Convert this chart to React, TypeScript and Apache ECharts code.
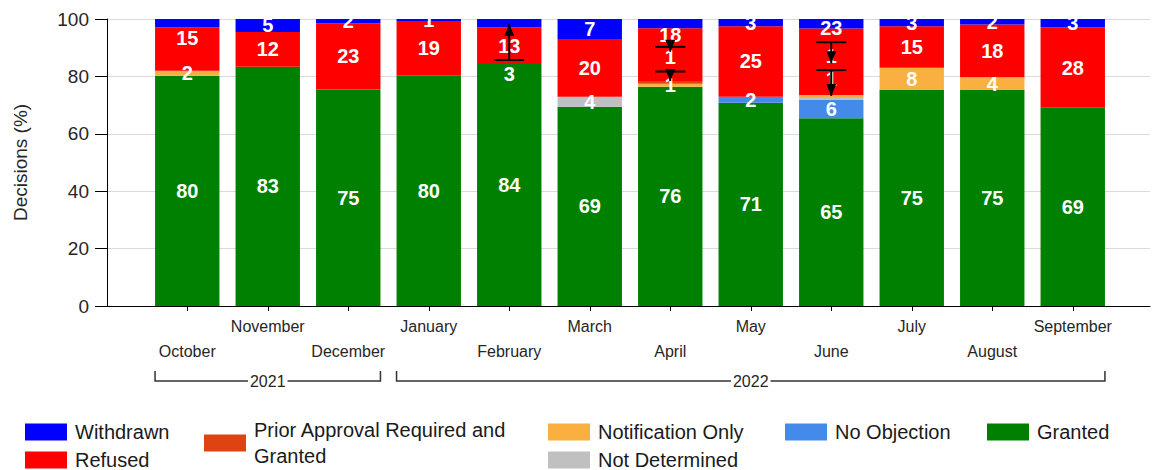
import React, { useEffect, useRef } from "react";
import * as echarts from "echarts";

const months = ["October", "November", "December", "January", "February", "March", "April", "May", "June", "July", "August", "September"];

const granted = [80.2, 83.4, 75.4, 80.2, 84.3, 69.4, 76.4, 70.8, 65.4, 75.3, 75.3, 69.1];
const noObjection = [0, 0, 0, 0, 0, 0, 0, 2.1, 6.4, 0, 0, 0];
const notDetermined = [0, 0, 0, 0, 0, 3.5, 0, 0, 0.7, 0, 0, 0];
const notificationOnly = [1.8, 0, 0, 0, 0, 0, 1, 0, 1, 7.7, 4.4, 0];
const priorApproval = [0, 0, 0, 0, 0, 0, 1, 0, 0, 0, 0, 0];
const refused = [15.1, 12.1, 23.1, 19.1, 12.8, 20.1, 18.4, 24.6, 23.2, 14.5, 18.4, 28];
const withdrawn = [2.9, 4.5, 1.5, 0.7, 2.9, 7, 3.2, 2.5, 3.3, 2.5, 1.9, 2.9];

// labels not drawn on the segment itself
const hiddenWithdrawn = [0, 4, 6, 8];
const hiddenRefused = [0, 6, 8];
const hiddenPrior = [6];
const hiddenNotDetermined = [8];
const hiddenNotification = [8];

// displaced labels (month index, value position, text)
const calloutMonth = [0, 4, 6, 6, 8, 8, 8];
const calloutValue = [93.4, 81, 94.4, 86.9, 96.8, 87, 79];
const calloutText = ["15", "3", "18", "1", "23", "1", "1"];

// leader arrows (month index, from value, to value)
const arrowMonth = [4, 6, 6, 8, 8];
const arrowFrom = [85.7, 90.3, 81.7, 91.9, 82.2];
const arrowTo = [98.3, 88.6, 78.4, 84.6, 73.2];

const yearLabels = ["2021", "2022"];
const yearStart = [0, 3];
const yearEnd = [2, 11];

const yTicks = [0, 20, 40, 60, 80, 100];

const FONT = '"Liberation Sans", Arial, sans-serif';
const TEXT = "#262626";
const PRIOR = "Prior Approval Required and Granted";

const seriesDefs = [
  { name: "Granted", data: granted, color: "#008000", hidden: [] as number[] },
  { name: "No Objection", data: noObjection, color: "#448AEB", hidden: [] as number[] },
  { name: "Not Determined", data: notDetermined, color: "#C0C0C0", hidden: hiddenNotDetermined },
  { name: "Notification Only", data: notificationOnly, color: "#FAB040", hidden: hiddenNotification },
  { name: PRIOR, data: priorApproval, color: "#DD4411", hidden: hiddenPrior },
  { name: "Refused", data: refused, color: "#FF0000", hidden: hiddenRefused },
  { name: "Withdrawn", data: withdrawn, color: "#0000FF", hidden: hiddenWithdrawn },
];

const BAR_RATIO = 0.8;

function buildOption() {
  const barSeries = seriesDefs.map((s) => ({
    name: s.name,
    type: "bar",
    stack: "total",
    xAxisIndex: 1,
    yAxisIndex: 1,
    barCategoryGap: "20%",
    itemStyle: { color: s.color },
    data: s.data,
    label: {
      show: true,
      position: "inside",
      color: "#ffffff",
      fontFamily: FONT,
      fontWeight: "bold",
      fontSize: 20,
      formatter: (p: any) => {
        if (s.hidden.indexOf(p.dataIndex) >= 0) return "";
        const v = Math.round(p.value);
        return v >= 1 ? String(v) : "";
      },
    },
    emphasis: { disabled: true },
  }));

  const legendText = {
    fontFamily: FONT,
    fontSize: 20,
    color: "#1a1a1a",
    lineHeight: 20,
    padding: [0, 0, 0, 3],
  };
  const legendBase = {
    orient: "vertical",
    icon: "rect",
    itemWidth: 42,
    itemHeight: 17,
    itemGap: 8,
    selectedMode: false,
    textStyle: legendText,
    padding: 0,
    height: 60,
  };

  return {
    animation: false,
    backgroundColor: "#ffffff",
    textStyle: { fontFamily: FONT },
    grid: [
      { left: 107, right: 13, top: 19, bottom: 164 },
      { left: 147, right: 50, top: 19, bottom: 164 },
    ],
    legend: [
      { ...legendBase, left: 25, top: 422, data: ["Withdrawn", "Refused"] },
      {
        ...legendBase,
        left: 204,
        top: 417,
        data: [PRIOR],
        formatter: () => "Prior Approval Required and\nGranted",
        textStyle: { ...legendText, lineHeight: 26 },
      },
      { ...legendBase, left: 548, top: 422, data: ["Notification Only", "Not Determined"] },
      { ...legendBase, left: 785, top: 422, data: ["No Objection"] },
      { ...legendBase, left: 987, top: 422, data: ["Granted"] },
    ],
    xAxis: [
      {
        type: "value",
        gridIndex: 0,
        min: 0,
        max: 1,
        axisLine: { show: true, lineStyle: { color: "#000", width: 1 } },
        axisTick: { show: false },
        axisLabel: { show: false },
        splitLine: { show: false },
      },
      {
        type: "category",
        gridIndex: 1,
        data: months,
        axisLine: { show: false },
        axisTick: { show: true, alignWithLabel: true, length: 5, lineStyle: { color: "#000" } },
        axisLabel: {
          interval: 0,
          margin: 8,
          fontFamily: FONT,
          fontSize: 16,
          lineHeight: 25,
          color: TEXT,
          formatter: (v: string, i: number) => (i % 2 === 0 ? "\n" + v : v),
        },
        splitLine: { show: false },
      },
    ],
    yAxis: [
      {
        type: "value",
        gridIndex: 0,
        min: yTicks[0],
        max: yTicks[yTicks.length - 1],
        interval: yTicks[1] - yTicks[0],
        name: "Decisions (%)",
        nameLocation: "middle",
        nameGap: 77,
        nameTextStyle: { fontFamily: FONT, fontSize: 19, color: TEXT },
        axisLine: { show: true, lineStyle: { color: "#000", width: 1 } },
        axisTick: { show: true, length: 12, lineStyle: { color: "#000" } },
        axisLabel: { margin: 18, fontFamily: FONT, fontSize: 19, color: TEXT },
        splitLine: { show: true, lineStyle: { color: "#dadada", width: 1 } },
      },
      {
        type: "value",
        gridIndex: 1,
        min: yTicks[0],
        max: yTicks[yTicks.length - 1],
        show: false,
        splitLine: { show: false },
      },
    ],
    series: [
      ...barSeries,
      {
        name: "callouts",
        type: "custom",
        xAxisIndex: 1,
        yAxisIndex: 1,
        z: 5,
        silent: true,
        data: calloutMonth.map((m, i) => [m, calloutValue[i]]),
        renderItem: (params: any, api: any) => {
          const p = api.coord([api.value(0), api.value(1)]);
          return {
            type: "text",
            x: p[0],
            y: p[1],
            style: {
              text: calloutText[params.dataIndex],
              fill: "#ffffff",
              font: `bold 20px ${FONT}`,
              align: "center",
              verticalAlign: "middle",
            },
          };
        },
      },
      {
        name: "arrows",
        type: "custom",
        xAxisIndex: 1,
        yAxisIndex: 1,
        z: 6,
        silent: true,
        data: arrowMonth.map((m, i) => [m, arrowFrom[i], arrowTo[i]]),
        renderItem: (params: any, api: any) => {
          const a = api.coord([api.value(0), api.value(1)]);
          const b = api.coord([api.value(0), api.value(2)]);
          const dir = b[1] < a[1] ? -1 : 1;
          const headLen = 12;
          const headW = 5;
          return {
            type: "group",
            children: [
              {
                type: "line",
                shape: { x1: a[0], y1: a[1], x2: b[0], y2: b[1] },
                style: { stroke: "#000", lineWidth: 2 },
              },
              {
                type: "line",
                shape: { x1: a[0] - 15, y1: a[1], x2: a[0] + 15, y2: a[1] },
                style: { stroke: "#000", lineWidth: 2 },
              },
              {
                type: "polygon",
                shape: {
                  points: [
                    [b[0], b[1]],
                    [b[0] - headW, b[1] - dir * headLen],
                    [b[0] + headW, b[1] - dir * headLen],
                  ],
                },
                style: { fill: "#000" },
              },
            ],
          };
        },
      },
      {
        name: "years",
        type: "custom",
        xAxisIndex: 1,
        yAxisIndex: 1,
        z: 6,
        silent: true,
        clip: false,
        data: yearStart.map((s, i) => [s, yearEnd[i]]),
        renderItem: (params: any, api: any) => {
          const s = api.coord([api.value(0), 0]);
          const e = api.coord([api.value(1), 0]);
          const half = (api.size([1, 0])[0] * BAR_RATIO) / 2;
          const x1 = s[0] - half;
          const x2 = e[0] + half;
          const y = s[1] + 75;
          return {
            type: "group",
            children: [
              {
                type: "polyline",
                shape: { points: [[x1, y - 10], [x1, y], [x2, y], [x2, y - 10]] },
                style: { stroke: "#333", lineWidth: 1.5, fill: null },
              },
              {
                type: "text",
                x: (x1 + x2) / 2,
                y: y,
                z2: 10,
                style: {
                  text: yearLabels[params.dataIndex],
                  fill: TEXT,
                  font: `16px ${FONT}`,
                  align: "center",
                  verticalAlign: "middle",
                  backgroundColor: "#ffffff",
                  padding: [0, 2],
                },
              },
            ],
          };
        },
      },
    ],
  };
}

export default function App() {
  const ref = useRef<HTMLDivElement>(null);
  useEffect(() => {
    document.body.style.margin = "0";
    if (!ref.current) return;
    const chart = echarts.init(ref.current, undefined, { renderer: "svg" });
    chart.setOption(buildOption() as any);
    return () => chart.dispose();
  }, []);
  return <div ref={ref} style={{ width: 1163, height: 470 }} />;
}
